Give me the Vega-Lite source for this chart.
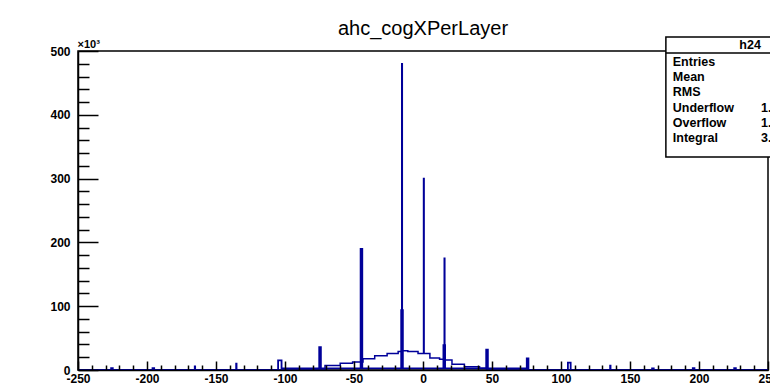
{
  "$schema": "https://vega.github.io/schema/vega-lite/v6.json",
  "width": 690,
  "height": 319,
  "autosize": "none",
  "padding": {"left": 78, "top": 51, "right": 2, "bottom": 20},
  "background": "white",
  "config": {
    "font": "Liberation Sans",
    "view": {"stroke": "black", "strokeWidth": 1.5}
  },
  "title": {
    "text": "ahc_cogXPerLayer",
    "font": "Liberation Sans",
    "fontSize": 20,
    "fontWeight": "normal",
    "color": "black",
    "anchor": "middle",
    "frame": "group",
    "baseline": "alphabetic",
    "offset": 4,
    "dy": 23
  },
  "datasets": {
    "spread": [
      {"x": -250, "n": 0},
      {"x": -165.5, "n": 6},
      {"x": -165, "n": 0},
      {"x": -135.5, "n": 10},
      {"x": -135, "n": 0},
      {"x": -71, "n": 7},
      {"x": -60, "n": 10.5},
      {"x": -51, "n": 12.5},
      {"x": -43.5, "n": 17.5},
      {"x": -35, "n": 22.5},
      {"x": -26, "n": 26},
      {"x": -18, "n": 29},
      {"x": -15.4, "n": 480},
      {"x": -15, "n": 30},
      {"x": -11, "n": 29},
      {"x": -3.6, "n": 26},
      {"x": 0.4, "n": 300},
      {"x": 0.8, "n": 26},
      {"x": 5, "n": 19},
      {"x": 12, "n": 17},
      {"x": 15.4, "n": 175},
      {"x": 15.8, "n": 15.5},
      {"x": 21, "n": 9},
      {"x": 30, "n": 5},
      {"x": 41, "n": 2.6},
      {"x": 46, "n": 0},
      {"x": 135.5, "n": 7},
      {"x": 136, "n": 0},
      {"x": 250, "n": 0}
    ],
    "cellPeaks": [
      {"x": -250, "n": 0},
      {"x": -226, "n": 3},
      {"x": -224.8, "n": 0},
      {"x": -196, "n": 3},
      {"x": -194.8, "n": 0},
      {"x": -105, "n": 15},
      {"x": -102.5, "n": 2.5},
      {"x": -75.2, "n": 36},
      {"x": -74, "n": 2.5},
      {"x": -45.2, "n": 190},
      {"x": -44, "n": 2.5},
      {"x": -15.8, "n": 94},
      {"x": -14.6, "n": 2.5},
      {"x": 14.8, "n": 39},
      {"x": 16, "n": 2.5},
      {"x": 45.8, "n": 32},
      {"x": 47, "n": 2.5},
      {"x": 75.2, "n": 18},
      {"x": 76.4, "n": 0},
      {"x": 105, "n": 11.5},
      {"x": 107, "n": 0},
      {"x": 166, "n": 2.5},
      {"x": 167.2, "n": 0},
      {"x": 195.5, "n": 3},
      {"x": 196.7, "n": 0},
      {"x": 225.5, "n": 3},
      {"x": 226.7, "n": 0},
      {"x": 250, "n": 0}
    ],
    "stats": [
      {
        "name": "h24",
        "keys": ["Entries", "Mean", "RMS", "Underflow", "Overflow", "Integral"],
        "vals": ["3204617", "-11.37", "45.62", "1.318e+04", "1.295e+04", "3.069e+06"]
      }
    ]
  },
  "layer": [
    {
      "data": {"name": "spread"},
      "mark": {"type": "line", "interpolate": "step-after", "color": "#000099", "strokeWidth": 1.5},
      "encoding": {
        "x": {
          "field": "x", "type": "quantitative",
          "scale": {"domain": [-250, 250], "nice": false, "zero": false},
          "axis": {
            "orient": "bottom", "values": [-250, -200, -150, -100, -50, 0, 50, 100, 150, 200, 250],
            "ticks": false, "grid": false, "title": null, "zindex": 1,
            "domain": true, "domainColor": "black", "domainWidth": 1.5,
            "labelExpr": "'' + datum.value", "labelFontSize": 12, "labelFontWeight": "bold",
            "labelColor": "black", "labelPadding": 3, "labelFlush": false, "labelOverlap": false
          }
        },
        "y": {
          "field": "n", "type": "quantitative",
          "scale": {"domain": [0, 500], "nice": false},
          "axis": {
            "orient": "left", "values": [0, 100, 200, 300, 400, 500],
            "ticks": false, "grid": false, "zindex": 1,
            "domain": true, "domainColor": "black", "domainWidth": 1.5,
            "labelFontSize": 12, "labelFontWeight": "bold", "labelColor": "black",
            "labelPadding": 8, "labelFlush": false, "labelOverlap": false,
            "title": "×10³", "titleAngle": 0, "titleAlign": "left", "titleBaseline": "alphabetic",
            "titleX": -1, "titleY": -4, "titleFontSize": 11, "titleFontWeight": "bold", "titleColor": "black"
          }
        }
      }
    },
    {
      "data": {"name": "cellPeaks"},
      "mark": {"type": "line", "interpolate": "step-after", "color": "#000099", "strokeWidth": 1.8},
      "encoding": {
        "x": {
          "field": "x", "type": "quantitative",
          "axis": {
            "orient": "bottom", "values": [-250, -200, -150, -100, -50, 0, 50, 100, 150, 200, 250],
            "labels": false, "domain": false, "grid": false, "title": null, "zindex": 1,
            "ticks": true, "tickSize": -9, "tickWidth": 1.5, "tickColor": "black"
          }
        },
        "y": {
          "field": "n", "type": "quantitative",
          "axis": {
            "orient": "left", "values": [0, 100, 200, 300, 400, 500],
            "labels": false, "domain": false, "grid": false, "title": null, "zindex": 1,
            "ticks": true, "tickSize": -20, "tickWidth": 1.5, "tickColor": "black"
          }
        }
      }
    },
    {
      "data": {"name": "stats"},
      "mark": {"type": "rect", "fill": "white", "stroke": "black", "strokeWidth": 1.5},
      "encoding": {
        "x": {
          "datum": 176, "type": "quantitative",
          "axis": {
            "orient": "bottom",
            "values": [-240, -230, -220, -210, -190, -180, -170, -160, -140, -130, -120, -110, -90, -80, -70, -60, -40, -30, -20, -10, 10, 20, 30, 40, 60, 70, 80, 90, 110, 120, 130, 140, 160, 170, 180, 190, 210, 220, 230, 240],
            "labels": false, "domain": false, "grid": false, "title": null, "zindex": 1,
            "ticks": true, "tickSize": -5, "tickWidth": 1.5, "tickColor": "black"
          }
        },
        "x2": {"datum": 300},
        "y": {
          "datum": 522, "type": "quantitative",
          "axis": {
            "orient": "left",
            "values": [20, 40, 60, 80, 120, 140, 160, 180, 220, 240, 260, 280, 320, 340, 360, 380, 420, 440, 460, 480],
            "labels": false, "domain": false, "grid": false, "title": null, "zindex": 1,
            "ticks": true, "tickSize": -11, "tickWidth": 1.5, "tickColor": "black"
          }
        },
        "y2": {"datum": 334}
      }
    },
    {
      "data": {"name": "stats"},
      "mark": {"type": "rule", "color": "black", "strokeWidth": 1.5},
      "encoding": {
        "x": {"datum": 176, "type": "quantitative", "axis": null},
        "x2": {"datum": 300},
        "y": {"datum": 497, "type": "quantitative", "axis": null}
      }
    },
    {
      "data": {"name": "stats"},
      "mark": {"type": "text", "align": "center", "baseline": "middle", "fontSize": 12.5, "fontWeight": "bold", "color": "black"},
      "encoding": {
        "x": {"datum": 237, "type": "quantitative", "axis": null},
        "y": {"datum": 509, "type": "quantitative", "axis": null},
        "text": {"field": "name", "type": "nominal"}
      }
    },
    {
      "data": {"name": "stats"},
      "mark": {"type": "text", "align": "left", "baseline": "alphabetic", "fontSize": 12.5, "fontWeight": "bold", "lineHeight": 15.2, "color": "black"},
      "encoding": {
        "x": {"datum": 181, "type": "quantitative", "axis": null},
        "y": {"datum": 476.5, "type": "quantitative", "axis": null},
        "text": {"field": "keys", "type": "nominal"}
      }
    },
    {
      "data": {"name": "stats"},
      "mark": {"type": "text", "align": "right", "baseline": "alphabetic", "fontSize": 12.5, "fontWeight": "bold", "lineHeight": 15.2, "color": "black"},
      "encoding": {
        "x": {"datum": 288, "type": "quantitative", "axis": null},
        "y": {"datum": 476.5, "type": "quantitative", "axis": null},
        "text": {"field": "vals", "type": "nominal"}
      }
    }
  ],
  "resolve": {"axis": {"x": "independent", "y": "independent"}}
}
